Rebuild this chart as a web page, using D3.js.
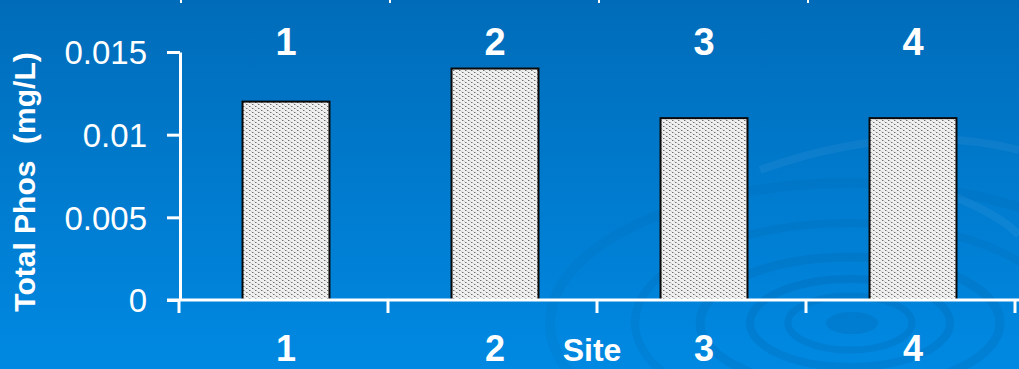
<!DOCTYPE html>
<html>
<head>
<meta charset="utf-8">
<script src="https://cdn.jsdelivr.net/npm/d3@7/dist/d3.min.js"></script>
<style>
  html, body { margin: 0; padding: 0; background: #0078cc; }
  svg { display: block; }
  text { font-family: "Liberation Sans", Arial, sans-serif; fill: #ffffff; }
</style>
</head>
<body>
<svg id="chart" width="1019" height="369"></svg>
<script>
// Total phosphorus by sampling site
const sites = ["1", "2", "3", "4"];
const totalPhos = [0.012, 0.014, 0.011, 0.011];
const yTicks = [0, 0.005, 0.01, 0.015];
const yTickLabels = ["0", "0.005", "0.01", "0.015"];
const xTitle = "Site";
const yTitle = "Total Phos\u00a0\u00a0(mg/L)";

const W = 1019, H = 369;
const svg = d3.select("#chart");
const defs = svg.append("defs");

// slide background
const grad = defs.append("linearGradient")
  .attr("id", "bg").attr("x1", 0).attr("y1", 0).attr("x2", 0).attr("y2", 1);
grad.append("stop").attr("offset", "0%").attr("stop-color", "#006cb9");
grad.append("stop").attr("offset", "100%").attr("stop-color", "#0089e2");
svg.append("rect").attr("width", W).attr("height", H).attr("fill", "url(#bg)");

// water ripple decoration
const ripple = svg.append("g").attr("fill", "none");
const rings = [
  {rx: 300, ry: 140, w: 10, o: 0.05},
  {rx: 215, ry: 100, w: 8, o: 0.07},
  {rx: 150, ry: 66, w: 9, o: 0.09},
  {rx: 100, ry: 44, w: 8, o: 0.10},
  {rx: 62, ry: 27, w: 7, o: 0.10}
];
rings.forEach(r => {
  ripple.append("ellipse")
    .attr("cx", 850).attr("cy", 323)
    .attr("rx", r.rx).attr("ry", r.ry)
    .attr("stroke", "#00335f").attr("stroke-opacity", r.o)
    .attr("stroke-width", r.w);
});
ripple.append("ellipse")
  .attr("cx", 852).attr("cy", 323).attr("rx", 26).attr("ry", 11)
  .attr("fill", "#00335f").attr("fill-opacity", 0.1);
ripple.append("path")
  .attr("d", "M760,170 Q900,120 1019,150")
  .attr("stroke", "#ffffff").attr("stroke-opacity", 0.05).attr("stroke-width", 8);
ripple.append("path")
  .attr("d", "M950,195 Q1000,215 1019,235")
  .attr("stroke", "#ffffff").attr("stroke-opacity", 0.05).attr("stroke-width", 8);

// stipple fill for the bars
const pat = defs.append("pattern")
  .attr("id", "stipple").attr("patternUnits", "userSpaceOnUse")
  .attr("width", 6).attr("height", 4);
pat.append("rect").attr("width", 6).attr("height", 4).attr("fill", "#f0f0f0");
[[0, 0, "#6e6e6e"], [3, 2, "#6e6e6e"], [1, 0, "#b5b5b5"], [4, 2, "#b5b5b5"],
 [2, 1, "#d0d0d0"], [5, 3, "#d0d0d0"]].forEach(([px, py, c]) => {
  pat.append("rect").attr("x", px).attr("y", py)
    .attr("width", 1).attr("height", 1).attr("fill", c);
});

// scales: category boundaries for the ticks, padded bands for the bars
const xBounds = d3.scaleBand().domain(sites).range([179, 1015]);
const x = d3.scaleBand().domain(sites).range([181.5, 1017.5])
  .paddingInner(0.584).paddingOuter(0.292);
const y = d3.scaleLinear().domain([0, 0.015]).range([300, 52]);

const bounds = sites.map(d => xBounds(d)).concat([xBounds.range()[1]]);

// edge of the preceding chart showing at the top
svg.append("g").selectAll("line").data(bounds.slice(0, 4)).join("line")
  .attr("x1", d => d + 2).attr("x2", d => d + 2)
  .attr("y1", 0).attr("y2", 3)
  .attr("stroke", "#fff").attr("stroke-width", 2);

// bars
svg.append("g").selectAll("rect").data(sites).join("rect")
  .attr("x", d => x(d))
  .attr("y", (d, i) => y(totalPhos[i]))
  .attr("width", x.bandwidth())
  .attr("height", (d, i) => y(0) - y(totalPhos[i]))
  .attr("fill", "url(#stipple)")
  .attr("stroke", "#0a0a0a").attr("stroke-width", 2);

// y axis
const yAxis = svg.append("g").attr("transform", "translate(180,0)")
  .call(d3.axisLeft(y).tickValues(yTicks)
    .tickFormat((d, i) => yTickLabels[i])
    .tickSize(13).tickPadding(20).tickSizeOuter(0));
yAxis.select(".domain").attr("stroke", "#fff").attr("stroke-width", 3);
yAxis.selectAll(".tick line").attr("stroke", "#fff").attr("stroke-width", 3);
yAxis.selectAll(".tick text")
  .attr("fill", "#fff").attr("font-size", 33)
  .attr("font-family", "'Liberation Sans', Arial, sans-serif")
  .attr("dy", "0.36em");

// x axis: line plus boundary ticks
const xAxisG = svg.append("g");
xAxisG.append("line").attr("x1", 167).attr("x2", W).attr("y1", 300).attr("y2", 300)
  .attr("stroke", "#fff").attr("stroke-width", 3);
xAxisG.selectAll("line.tk").data(bounds).join("line").attr("class", "tk")
  .attr("x1", d => d).attr("x2", d => d)
  .attr("y1", 300).attr("y2", 313)
  .attr("stroke", "#fff").attr("stroke-width", 3);

// site labels above and below the bars
svg.append("g").selectAll("text").data(sites).join("text")
  .attr("x", d => x(d) + x.bandwidth() / 2)
  .attr("y", 55)
  .attr("text-anchor", "middle")
  .attr("font-size", 38).attr("font-weight", "bold")
  .text(d => d);
svg.append("g").selectAll("text").data(sites).join("text")
  .attr("x", d => x(d) + x.bandwidth() / 2)
  .attr("y", 361)
  .attr("text-anchor", "middle")
  .attr("font-size", 36).attr("font-weight", "bold")
  .text(d => d);

// axis titles
svg.append("text")
  .attr("x", 592).attr("y", 361)
  .attr("text-anchor", "middle")
  .attr("font-size", 32).attr("font-weight", "bold")
  .text(xTitle);
svg.append("text")
  .attr("transform", "translate(35,182) rotate(-90)")
  .attr("text-anchor", "middle")
  .attr("font-size", 30).attr("font-weight", "bold")
  .text(yTitle);
</script>
</body>
</html>
